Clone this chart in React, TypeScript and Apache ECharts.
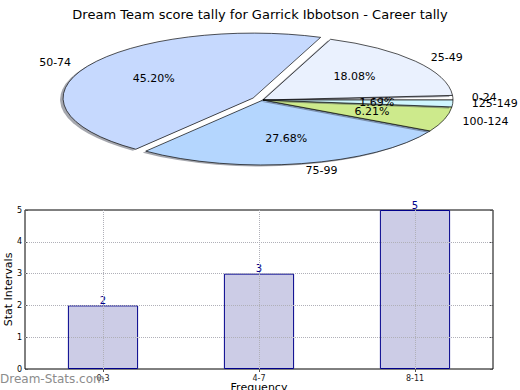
import React, { useEffect, useRef } from "react";
import * as echarts from "echarts";

const titleText = "Dream Team score tally for Garrick Ibbotson - Career tally";
const pieLabels = ["0-24", "25-49", "50-74", "75-99", "100-124", "125-149"];
const pieValues = [1.13, 18.08, 45.2, 27.68, 6.21, 1.69];
const pieColors = ["#ffffff", "#eaf1fe", "#c6d9fe", "#b4d6fe", "#cdea8c", "#d0f6fe"];
const pieExplode = [0, 0, 0.06, 0, 0, 0];
const barCategories = ["0-3", "4-7", "8-11"];
const barValues = [2, 3, 5];
const yTicks = [0, 1, 2, 3, 4, 5];
const yAxisName = "Stat Intervals";
const xAxisName = "Frequency";
const watermark = "Dream-Stats.com";

const FONT = "DejaVu Sans";
const PCX = 263;
const PCY = 100;
const RX = 190;
const RY = 65;

export default function App() {
  const ref = useRef<HTMLDivElement>(null);
  useEffect(() => {
    if (!ref.current) return;
    const chart = echarts.init(ref.current, undefined, { renderer: "svg" });
    const total = pieValues.reduce((a, b) => a + b, 0);
    const starts: number[] = [];
    let acc = 0;
    for (const v of pieValues) {
      starts.push(acc);
      acc += v;
    }
    const renderItem = (params: any, api: any) => {
      const i = params.dataIndex;
      const v = api.value(0);
      const t1 = (starts[i] / total) * Math.PI * 2;
      const t2 = t1 + (v / total) * Math.PI * 2;
      const m = (t1 + t2) / 2;
      const e = pieExplode[i];
      const cx = PCX + e * RX * Math.cos(m);
      const cy = PCY - e * RY * Math.sin(m);
      const sy = RY / RX;
      const sector = (dx: number, dy: number, style: any) => ({
        type: "sector",
        x: cx + dx,
        y: cy + dy,
        scaleY: sy,
        shape: { cx: 0, cy: 0, r: RX, r0: 0, startAngle: -t1, endAngle: -t2, clockwise: false },
        style,
      });
      const cosm = Math.cos(m);
      const sinm = Math.sin(m);
      return {
        type: "group",
        children: [
          sector(-3, 1.5, { fill: "rgba(55,60,75,0.45)", stroke: "none" }),
          sector(0, 0, { fill: pieColors[i], stroke: "#000", lineWidth: 1, strokeNoScale: true }),
          {
            type: "text",
            x: cx + 1.1 * RX * cosm,
            y: cy - 1.1 * RY * sinm,
            style: {
              text: pieLabels[i],
              fill: "#000",
              fontSize: 11,
              fontFamily: FONT,
              align: cosm > 0 ? "left" : "right",
              verticalAlign: "middle",
            },
          },
          {
            type: "text",
            x: cx + 0.6 * RX * cosm,
            y: cy - 0.6 * RY * sinm,
            style: {
              text: v.toFixed(2) + "%",
              fill: "#000",
              fontSize: 11,
              fontFamily: FONT,
              align: "center",
              verticalAlign: "middle",
            },
          },
        ],
      };
    };

    const gridLine = { type: "dotted", color: "#b0b0b8", width: 1 };

    chart.setOption({
      animation: false,
      textStyle: { fontFamily: FONT },
      title: {
        text: titleText,
        left: "center",
        top: 3,
        textStyle: { fontSize: 13, fontWeight: "normal", color: "#000", fontFamily: FONT },
      },
      grid: {
        left: 25,
        right: 27,
        top: 210,
        bottom: 21,
        containLabel: false,
        outerBoundsMode: "none",
        show: true,
        borderColor: "#000",
        borderWidth: 1,
        backgroundColor: "transparent",
      },
      xAxis: [
        {
          type: "category",
          data: barCategories,
          position: "bottom",
          name: xAxisName,
          nameLocation: "middle",
          nameGap: 13,
          nameMoveOverlap: false,
          nameTextStyle: { fontSize: 11, color: "#000", verticalAlign: "top" },
          axisLine: { show: false },
          axisTick: { show: true, inside: true, alignWithLabel: true, length: 3, lineStyle: { color: "#555" } },
          axisLabel: { fontSize: 8, color: "#222", margin: 5 },
          splitLine: { show: false },
        },
        {
          type: "category",
          data: barCategories,
          position: "top",
          axisLine: { show: false },
          axisTick: { show: true, inside: true, alignWithLabel: true, length: 3, lineStyle: { color: "#555" } },
          axisLabel: { show: false },
          splitLine: { show: false },
        },
      ],
      yAxis: [
        {
          type: "value",
          min: 0,
          max: 5,
          interval: 1,
          name: yAxisName,
          nameLocation: "middle",
          nameGap: 11,
          nameMoveOverlap: false,
          nameTextStyle: { fontSize: 11, color: "#000" },
          axisLine: { show: false },
          axisTick: { show: true, inside: true, length: 3, lineStyle: { color: "#555" } },
          axisLabel: { fontSize: 8, color: "#000", margin: 3 },
          splitLine: { show: false },
        },
        {
          type: "value",
          min: 0,
          max: 5,
          interval: 1,
          position: "right",
          axisLine: { show: false },
          axisTick: { show: true, inside: true, length: 3, lineStyle: { color: "#555" } },
          axisLabel: { show: false },
          splitLine: { show: false },
        },
      ],
      series: [
        {
          type: "custom",
          coordinateSystem: "none",
          data: pieValues,
          renderItem,
          silent: true,
        },
        {
          type: "bar",
          xAxisIndex: 0,
          yAxisIndex: 0,
          data: barValues,
          barWidth: "45%",
          itemStyle: { color: "#ccccE6", borderColor: "#00008b", borderWidth: 1 },
          label: { show: true, position: "top", distance: 0, color: "#00008b", fontSize: 10, fontFamily: FONT },
          markLine: {
            silent: true,
            symbol: "none",
            z: 5,
            label: { show: false },
            lineStyle: gridLine,
            data: [
              ...barCategories.map((c) => ({ xAxis: c })),
              ...yTicks.slice(1, -1).map((t) => ({ yAxis: t })),
            ],
          },
        },
      ],
      graphic: [
        {
          type: "text",
          left: 0,
          top: 373,
          z: 100,
          style: { text: watermark, fill: "#8c8c8c", fontSize: 12, fontFamily: FONT },
        },
      ],
    });
    return () => chart.dispose();
  }, []);
  return (
    <div
      ref={ref}
      style={{ position: "fixed", left: 0, top: 0, width: 520, height: 390, background: "#fff" }}
    />
  );
}
